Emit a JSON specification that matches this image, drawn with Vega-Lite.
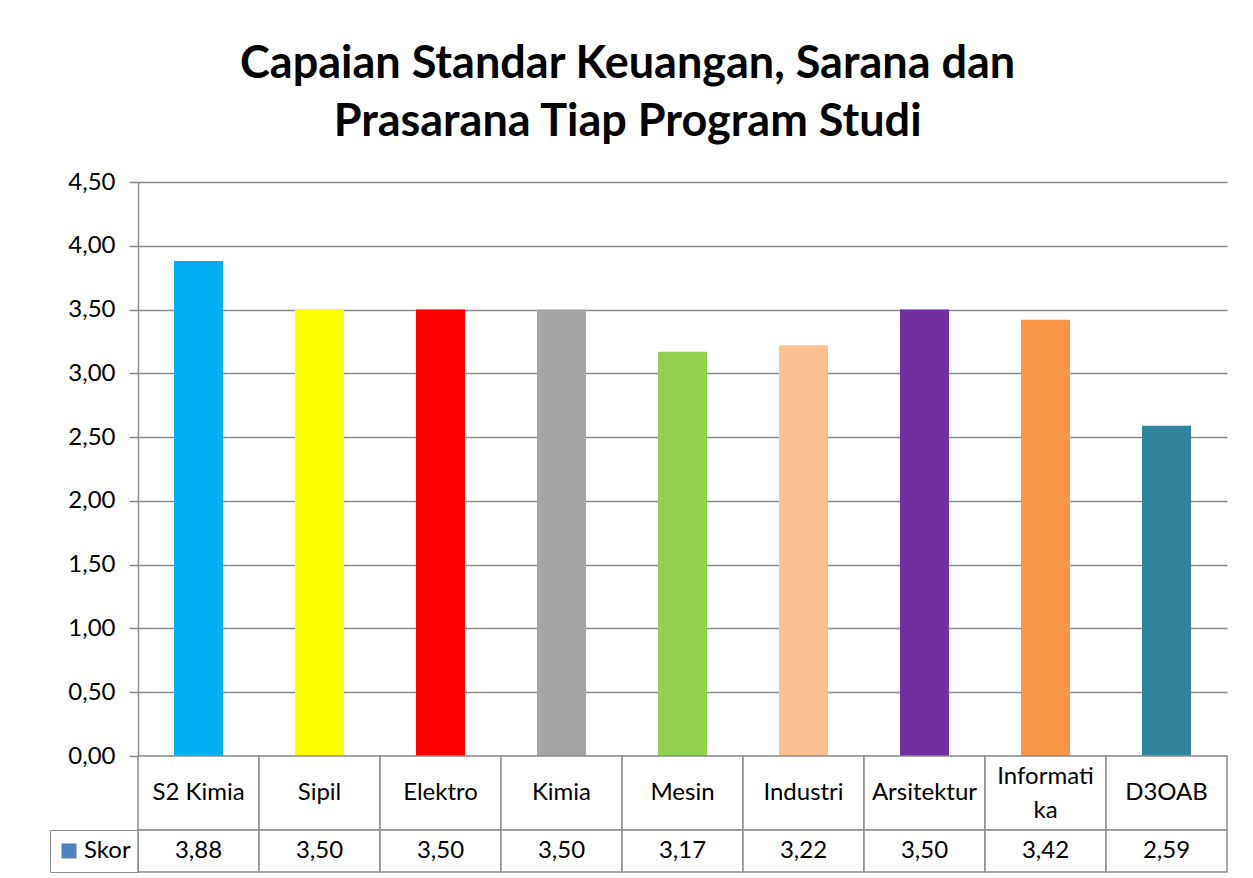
{
  "$schema": "https://vega.github.io/schema/vega-lite/v6.json",
  "padding": {"left": 49, "top": 42, "right": 20, "bottom": 0},
  "background": "white",
  "title": {
    "text": ["Capaian Standar Keuangan, Sarana dan", "Prasarana Tiap Program Studi"],
    "font": "Lato", "fontSize": 45, "fontWeight": "bold", "color": "black",
    "anchor": "middle", "lineHeight": 58, "offset": 25, "dx": -11
  },
  "datasets": {
    "skor": [
      {"prodi": "S2 Kimia", "label": "S2 Kimia", "skor": 3.88},
      {"prodi": "Sipil", "label": "Sipil", "skor": 3.50},
      {"prodi": "Elektro", "label": "Elektro", "skor": 3.50},
      {"prodi": "Kimia", "label": "Kimia", "skor": 3.50},
      {"prodi": "Mesin", "label": "Mesin", "skor": 3.17},
      {"prodi": "Industri", "label": "Industri", "skor": 3.22},
      {"prodi": "Arsitektur", "label": "Arsitektur", "skor": 3.50},
      {"prodi": "Informatika", "label": "Informati\nka", "skor": 3.42},
      {"prodi": "D3OAB", "label": "D3OAB", "skor": 2.59}
    ]
  },
  "spacing": 0,
  "bounds": "flush",
  "resolve": {"scale": {"x": "independent", "fill": "independent", "color": "independent"}, "legend": {"fill": "independent", "color": "independent"}},
  "vconcat": [
    {
      "width": 1089,
      "height": 574,
      "data": {"name": "skor"},
      "mark": {"type": "bar"},
      "encoding": {
        "x": {"field": "prodi", "type": "nominal", "sort": null,
              "scale": {"paddingInner": 0.595, "paddingOuter": 0.2975}, "axis": null},
        "y": {"field": "skor", "type": "quantitative",
              "scale": {"domain": [0, 4.5], "nice": false},
              "axis": {"values": [0, 0.5, 1, 1.5, 2, 2.5, 3, 3.5, 4, 4.5],
                       "format": ".2f", "title": null,
                       "grid": true, "gridColor": "#8c8c8c", "gridWidth": 1.5,
                       "domainColor": "#8c8c8c", "domainWidth": 1.5,
                       "tickColor": "#8c8c8c", "tickWidth": 1.5, "tickSize": 9,
                       "labelFont": "Lato", "labelFontSize": 24, "labelColor": "black",
                       "labelPadding": 14}},
        "color": {"field": "prodi", "type": "nominal", "legend": null,
                  "scale": {"domain": ["S2 Kimia", "Sipil", "Elektro", "Kimia", "Mesin", "Industri", "Arsitektur", "Informatika", "D3OAB"],
                            "range": ["#00B0F0", "#FFFF00", "#FF0000", "#A5A5A5", "#92D050", "#FAC090", "#7030A0", "#F79646", "#31849B"]}}
      }
    },
    {
      "width": 1089,
      "height": 74,
      "data": {"name": "skor"},
      "encoding": {
        "x": {"field": "prodi", "type": "nominal", "sort": null,
              "scale": {"paddingInner": 0, "paddingOuter": 0}, "axis": null}
      },
      "layer": [
        {"mark": {"type": "rect", "fill": "white", "stroke": "#8c8c8c", "strokeWidth": 1.5}},
        {"transform": [{"filter": "datum.prodi != 'Informatika'"}],
         "mark": {"type": "text", "font": "Lato", "fontSize": 24, "color": "black"},
         "encoding": {"text": {"field": "label"}}},
        {"transform": [{"filter": "datum.prodi == 'Informatika'"}],
         "mark": {"type": "text", "font": "Lato", "fontSize": 24, "color": "black", "lineBreak": "\n", "lineHeight": 34, "dy": -16},
         "encoding": {"text": {"field": "label"}}}
      ]
    },
    {
      "width": 1089,
      "height": 42,
      "data": {"name": "skor"},
      "encoding": {
        "x": {"field": "prodi", "type": "nominal", "sort": null,
              "scale": {"paddingInner": 0, "paddingOuter": 0}, "axis": null}
      },
      "layer": [
        {"mark": {"type": "rect", "fill": "white", "stroke": "#8c8c8c", "strokeWidth": 1.5}},
        {"mark": {"type": "text", "font": "Lato", "fontSize": 24, "color": "black"},
         "encoding": {"text": {"field": "skor", "type": "quantitative", "format": ".2f"}}},
        {"mark": {"type": "text"},
         "encoding": {
           "text": {"value": ""},
           "fill": {"datum": "Skor", "type": "nominal",
                    "scale": {"range": ["#4F81BD"]},
                    "legend": {"orient": "left", "offset": 0, "title": null, "padding": 7,
                               "strokeColor": "#8c8c8c", "symbolType": "square", "symbolSize": 225,
                               "symbolStrokeWidth": 0, "symbolOpacity": 1, "clipHeight": 28,
                               "labelFont": "Lato", "labelFontSize": 24, "labelColor": "black", "labelOffset": 3}}
         }}
      ]
    }
  ],
  "config": {
    "view": {"stroke": null},
    "locale": {"number": {"decimal": ",", "thousands": ".", "grouping": [3], "currency": ["", ""]}}
  }
}
